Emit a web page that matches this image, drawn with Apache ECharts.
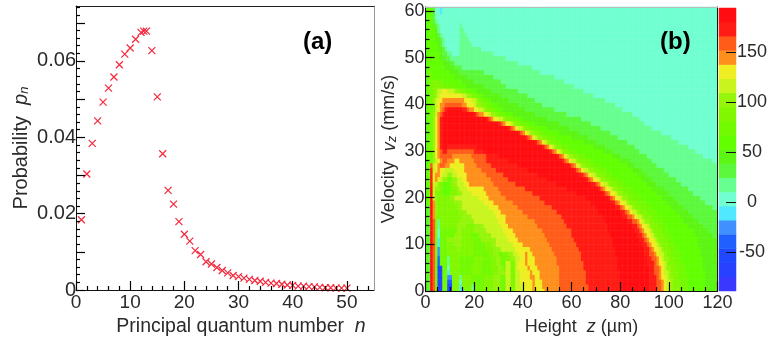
<!DOCTYPE html>
<html>
<head>
<meta charset="utf-8">
<title>Probability and phase space</title>
<script src="https://cdn.jsdelivr.net/npm/echarts@6/dist/echarts.min.js"></script>
<style>
  html, body { margin: 0; padding: 0; background: #fff; }
  #chart { width: 768px; height: 340px; }
</style>
</head>
<body>
<div id="chart"></div>
<script>
// panel (a): probability per principal quantum number
const nValues = [1,2,3,4,5,6,7,8,9,10,11,12,12.5,13,14,15,16,17,18,19,20,21,22,23,24,25,26,27,28,29,30,31,32,33,34,35,36,37,38,39,40,41,42,43,44,45,46,47,48,49,50]
const pValues = [.0184,.0304,.0384,.0443,.0492,.0529,.0558,.059,.0618,.0634,.0657,.0675,.0678,.0678,.0627,.0506,.0357,.0261,.0225,.0179,.0146,.0128,.0103,.0093,.0074,.0068,.0059,.0051,.0045,.0038,.0035,.0031,.0028,.0025,.0023,.002,.0018,.0017,.0015,.0013,.0012,.001,.001,.0009,.0008,.0007,.0006,.0006,.0005,.0005,.0005]
const pTickLabels = [0, 0.02, 0.04, 0.06]
const nTickLabels = [0, 10, 20, 30, 40, 50]

// panel (b): colour bands, top of the colour bar first
const bandLetters = 'abcdefghijklmnopqrst'.split('')
const bandValues = [187,173,159,145,130,116,102,88,74,60,46,31,17,3,-11,-25,-39,-54,-68,-82]
const bandColors = ['#ff0d10','#ff1c14','#ff5c1a','#ff8f1c','#eeee22','#c8f51e','#95f50a','#82f800','#72fa00','#62ff00','#5cf514','#5cf83c','#66ff90','#70ffd0','#50e8ff','#4090ff','#2060ff','#2048ff','#2840ff','#3a38ff']
const barTicks = [-50, 0, 50, 100, 150]
const zTickLabels = [0, 20, 40, 60, 80, 100, 120]
const vTickLabels = [0, 10, 20, 30, 40, 50, 60]

// one string per velocity row, 60 mm/s first: band letter + height where that band ends
const heightRuns = [
  'k1 j3 l4 n6 o7 n120',
  'k1 j3 l4 n120',
  'k1 j3 l4 m5 n120',
  'k1 j3 k4 l5 m6 n14 m15 n120',
  'k1 j4 k5 l5 m6 n14 m16 n120',
  'k1 j4 k5 l6 m7 n14 m17 n120',
  'k1 j4 k6 l7 m8 n14 m18 n120',
  'k1 j5 k6 l7 m8 n14 m19 n120',
  'k1 j5 k7 l8 m9 n14 m23 n120',
  'k1 j6 k7 l9 m11 n14 m28 n120',
  'k1 j6 k8 l10 m33 n120',
  'k1 j7 k10 l12 m38 n120',
  'k1 j8 k12 l15 m44 n120',
  'k1 i3 j10 k14 l24 m47 n120',
  'k1 i3 j12 k17 l28 m53 n120',
  'k1 i3 h5 i8 j15 k20 l31 m57 n120',
  'k1 i3 h7 i12 j17 k24 l33 m61 n120',
  'k1 i3 h4 g5 f7 e9 f12 g14 h16 i18 j21 k27 l38 m65 n120',
  'k1 i3 h4 g5 f6 e15 f17 g19 h20 i22 j24 k31 l42 m69 n120',
  'k1 i3 g4 f5 e7 d16 e19 f21 g22 h23 i25 j27 k34 l45 m74 n120',
  'k1 i3 h4 f5 e6 d8 c15 d17 e20 f21 g23 h25 i27 j30 k38 l48 m78 n120',
  'k1 i3 h4 f5 e6 d7 c8 b9 a15 b17 c18 d20 e22 f24 g25 h27 i29 j32 k41 l53 m81 n120',
  'k1 i3 g4 f5 d6 c7 b8 a20 b21 c22 d24 e26 f27 g29 h30 i33 j36 k45 l58 m85 n120',
  'k1 i3 g4 e5 d6 b7 a25 b26 c27 d28 e30 f32 g33 h35 i38 j40 k50 l64 m88 n120',
  'k1 i3 g4 e5 d6 b7 a30 b31 c32 d33 e35 f36 g37 h39 i42 j45 k55 l68 m90 n120',
  'k1 i3 g4 e5 d6 b7 a34 b35 c36 d37 e38 f40 g41 h43 i46 j50 k59 l72 m93 n120',
  'k1 i3 g4 e5 d6 b7 a38 b39 c40 d41 e42 f43 g45 h47 i49 j55 k63 l76 m97 n120',
  'k1 i3 g4 e5 d6 b7 a41 b42 c43 d44 e45 f46 g48 h50 i53 j60 k67 l79 m101 n120',
  'k1 i3 g4 e5 d6 b7 a45 b46 c47 d48 e49 f50 g51 h53 i56 j65 k70 l83 m104 n120',
  'k1 i3 g4 e5 d6 b7 a9 b21 a48 b49 c50 d51 e52 f53 g54 h56 i59 j69 k74 l86 m108 n120',
  'k1 i3 g4 e5 d6 c7 b9 c20 b24 a51 b52 c53 d54 e55 f56 g57 h59 i62 j73 k77 l88 m111 n120',
  'k1 i3 g4 e5 d6 c11 d19 c25 b30 a54 b55 c56 d57 e58 f59 g61 h63 i66 j77 k80 l91 m114 n120',
  'k1 i3 g4 f5 e6 d7 c9 d12 e14 d20 c25 b34 a56 b57 c58 d59 e60 f62 g63 h66 i69 j80 k84 l93 m118 n120',
  'k1 i2 c3 f4 e5 d6 c8 d10 e16 d21 c27 b38 a59 b60 c61 d62 e63 f64 g66 h68 i72 j83 k86 l95 m120',
  'k1 i2 b3 f4 e5 d6 e8 f12 e16 d23 c29 b42 a61 b62 c63 d64 e65 f67 g69 h71 i75 j85 k89 l98 m120',
  'k1 i2 b3 e4 d6 e7 f9 g11 f13 e17 d25 c32 b46 a63 b65 c66 d67 e68 f70 g71 h74 i77 j87 k91 l100 m120',
  'k1 i2 b3 e4 d5 e6 f7 g9 i11 g13 f15 e17 d27 c34 b50 a66 b67 c68 d69 e71 f72 g74 h76 i80 j89 k93 l103 m120',
  'k1 i2 b3 f5 g6 h7 j10 h11 g13 f16 e18 d28 c37 b54 a68 b70 c71 d72 e73 f75 g76 h79 i82 j91 k95 l105 m120',
  'k1 i2 a3 f4 g6 h7 j10 i11 h13 g14 f17 e24 d30 c41 b58 a71 b72 c73 d74 e76 f77 g79 h81 i85 j93 k98 l108 m120',
  'k1 i2 a3 f4 h7 j10 h13 g15 f19 e25 d31 c44 b62 a73 b74 c75 d76 e78 f79 g81 h83 i87 j95 k100 l110 m120',
  'k1 i2 a3 f4 g5 h10 g12 f22 e26 d33 c47 b66 a75 b76 c77 d78 e80 f81 g83 h85 i89 j97 k102 l113 m120',
  'k1 i2 a3 d4 g5 h12 g15 f24 e28 d36 c49 b68 a77 b78 c79 d80 e82 f83 g84 h87 i91 j99 k104 l115 m120',
  'k1 l2 a3 d4 g5 h13 g15 f26 e30 d38 c52 b70 a78 b80 c81 d82 e84 f85 g86 h89 i93 j101 k106 l118 m120',
  'k1 l2 a3 d4 g5 h14 g17 f28 e31 d40 c54 b71 a80 b82 c83 d84 e85 f87 g88 h91 i95 j103 k108 l120',
  'k1 l2 a3 d4 h15 g19 f29 e33 d42 c56 b73 a81 b83 c85 d86 e87 f89 g90 h93 i96 j105 k110 l120',
  'k1 l2 a3 c4 h5 m6 h14 g20 f30 e33 d45 c57 b74 a83 b85 c87 d88 e89 f90 g92 h94 i98 j106 k112 l120',
  'k1 l2 a3 c4 h5 m6 h13 g17 h20 g24 f31 e34 d46 c58 b75 a85 b87 c88 d89 e91 f92 g93 h96 i99 j108 k114 l120',
  'k1 l2 a3 c4 h5 n6 i13 g15 h20 g25 f32 e36 d48 c60 b75 a86 b88 c89 d90 e92 f93 g94 h97 i100 j110 k116 l120',
  'k1 l2 a3 c4 h5 n6 i12 g15 h19 i22 g27 f33 e37 d49 c60 b76 a87 b89 c90 d91 e93 f94 g95 h98 i101 j111 k118 l120',
  'k1 l2 a3 c4 h5 o6 i9 g15 h20 i23 g29 f34 e38 d50 c61 b77 a88 b90 c91 d92 e94 f95 g96 h99 i102 j112 k120',
  'k1 l2 a3 c4 h5 o6 i9 h12 g15 h20 i24 h27 g29 f36 e40 d51 c62 b77 a89 b91 c92 d93 e95 f96 g97 h100 i103 j112 k120',
  'k1 l2 a3 c4 h5 p6 i9 h13 g14 h20 i25 h28 g31 f37 e43 d52 c63 b78 a90 b92 c93 d94 e96 f97 g98 h101 i104 j113 k120',
  'k1 l2 a3 c4 h5 p6 i9 h20 i26 h28 g30 i32 h34 g36 f38 e41 d42 e44 d53 c64 b78 a90 b92 c94 d95 e96 f98 g99 h101 i105 j113 k120',
  'k1 l2 a3 c4 i5 q6 i9 m10 h14 i20 h24 i27 h29 g31 i33 h35 g37 f39 e41 d42 e45 d54 c64 b79 a91 b93 c95 d96 e97 f98 g100 h102 i105 j114 k120',
  'k1 l2 a3 c4 i5 q6 i9 m10 h14 i20 h23 i27 h29 g31 i33 f35 h37 f38 e41 d42 e45 d54 c65 b79 a91 b94 c95 d96 e98 f99 g100 h103 i106 j114 k120',
  'k1 l2 a3 c4 i5 r7 i9 n10 h14 i19 h23 i27 h30 g32 i33 f35 h37 f38 e42 d43 e46 d55 c65 b79 a92 b94 c96 d97 e98 f99 g101 h103 i107 j114 k120',
  'k1 l2 a3 c4 i5 r7 i9 o10 h14 i19 h23 i28 h30 g33 f35 h37 f39 e43 d44 e47 d55 c66 b80 a92 b94 c96 d97 e98 f100 g101 h104 i107 j115 k120',
  'k1 l2 a3 c4 i5 r7 i9 p11 h14 m15 h19 i24 h28 g31 i33 f35 h37 f39 e43 d45 e47 d55 c66 b80 a92 b95 c96 d97 e99 f100 g102 h104 i108 j115 k120',
  'k1 l2 a3 c4 i5 r7 i9 q11 h14 n15 h19 i24 h28 g31 i33 f35 h37 f39 e44 d45 e48 d55 c66 b80 a92 b95 c97 d98 e99 f101 g102 h105 i108 j115 k120',
  'k1 l2 a3 c4 i5 s7 i9 r11 h14 o15 h19 m20 i24 h28 g31 i33 f35 h37 f40 e44 d45 e48 d55 c67 b80 a92 b95 c97 d98 e99 f101 g102 h105 i108 j115 k120',
  'k1 l2 a3 c4 i5 r7 i9 r11 h14 o16 h19 m20 i24 h28 g31 i33 f35 h37 f40 e44 d45 e49 d55 c67 b80 a92 b95 c97 d98 e99 f101 g102 h105 i108 j115 k120'
]

const FONT = '"Liberation Sans", Arial, sans-serif'
const INK = '#2a2a2a'

// expand the runs into cells; each row is centred on its velocity so it takes two half bins
const rowsFromZero = heightRuns.slice().reverse().map(row => {
  const bands = []
  row.split(' ').forEach(run => {
    const end = Number(run.slice(1))
    while (bands.length < end) bands.push(bandValues[bandLetters.indexOf(run[0])])
  })
  return bands
})
const velocityCats = Array.from({ length: 122 }, (_, i) => i / 2)
const heightCats = Array.from({ length: 120 }, (_, i) => i)
const heatCells = []
velocityCats.forEach((_, j) => {
  const bands = rowsFromZero[Math.min(60, Math.ceil(j / 2))]
  bands.forEach((value, z) => heatCells.push([z, j, value]))
})
const barCats = bandValues.slice().reverse()
const barCells = barCats.map((v, i) => [0, i, v])

const pairs = nValues.map((n, i) => [n, pValues[i]])

const hiddenAxis = (gridIndex, data) => ({
  type: 'category', gridIndex, data, show: false
})
const edgeAxis = (gridIndex, position, color) => ({
  type: 'value', gridIndex, position, min: 0, max: 1, z: 6,
  axisLabel: { show: false }, axisTick: { show: false }, splitLine: { show: false },
  axisLine: { show: true, onZero: false, lineStyle: { color, width: 1 } }
})
const majorTick = values => ({
  show: true, inside: true, length: 9, customValues: values, lineStyle: { color: '#000', width: 1.2 }
})
const tickAxis = (gridIndex, extra) => Object.assign({
  type: 'value', gridIndex, z: 6,
  splitLine: { show: false },
  axisLine: { show: true, onZero: false, lineStyle: { color: '#111', width: 1 } },
  nameLocation: 'middle'
}, extra)
const richTitle = (size, extra) => Object.assign({
  color: INK, fontFamily: FONT, fontSize: size,
  rich: {
    i: { fontStyle: 'italic', fontSize: size, fontFamily: FONT, color: INK },
    s: { fontStyle: 'italic', fontSize: 13, fontFamily: FONT, color: INK, verticalAlign: 'bottom' }
  }
}, extra)
const minor = n => ({ show: true, splitNumber: n, length: 4, lineStyle: { color: '#000', width: 1.2 } })

const chart = echarts.init(document.getElementById('chart'), null, { renderer: 'canvas' })

chart.setOption({
  animation: false,
  backgroundColor: '#fff',
  grid: [
    { left: 76, top: 6, width: 298, height: 284, outerBoundsMode: 'none' },
    { left: 425.5, top: 7, width: 292, height: 284, outerBoundsMode: 'none' },
    { left: 719, top: 8, width: 17, height: 283, outerBoundsMode: 'none' }
  ],
  xAxis: [
    tickAxis(0, {
      min: 0, max: 55, interval: 10,
      axisTick: majorTick(nTickLabels),
      minorTick: minor(5),
      axisLabel: { color: INK, fontFamily: FONT, fontSize: 19, margin: 3, customValues: nTickLabels },
      name: 'Principal quantum number  {i|n}', nameGap: 27,
      nameTextStyle: richTitle(19.5, { padding: [0, 0, 0, 32] })
    }),
    tickAxis(1, {
      min: 0, max: 120, interval: 20,
      axisTick: majorTick(zTickLabels),
      minorTick: minor(4),
      axisLabel: { color: INK, fontFamily: FONT, fontSize: 18, margin: 3, customValues: zTickLabels },
      name: 'Height  {i|z} (µm)', nameGap: 27,
      nameTextStyle: richTitle(18, { padding: [0, 0, 0, 20] })
    }),
    hiddenAxis(1, heightCats),
    hiddenAxis(2, ['bar']),
    edgeAxis(0, 'top', '#222'),
    edgeAxis(1, 'top', '#bbb')
  ],
  yAxis: [
    tickAxis(0, {
      min: 0, max: 0.0744, interval: 0.01,
      axisTick: majorTick([0, 0.01, 0.02, 0.03, 0.04, 0.05, 0.06, 0.07]),
      minorTick: minor(5),
      axisLabel: { color: INK, fontFamily: FONT, fontSize: 20, margin: 0, customValues: pTickLabels,
        formatter: v => (v === 0 ? '0' : v.toFixed(2)) },
      name: 'Probability  {i|p}{s|n}', nameGap: 45,
      nameTextStyle: richTitle(20)
    }),
    tickAxis(1, {
      min: 0, max: 60.85, interval: 10,
      axisTick: majorTick(vTickLabels),
      minorTick: minor(5),
      axisLabel: { color: INK, fontFamily: FONT, fontSize: 18, margin: 1, customValues: vTickLabels },
      name: 'Velocity  {i|v}{s|z} (mm/s)', nameGap: 27,
      nameTextStyle: richTitle(18)
    }),
    hiddenAxis(1, velocityCats),
    hiddenAxis(2, barCats),
    {
      type: 'value', gridIndex: 2, position: 'right', min: -89, max: 194, z: 6,
      splitLine: { show: false },
      axisLine: { show: false },
      axisTick: { show: true, inside: true, length: 10, customValues: barTicks, lineStyle: { color: '#111', width: 1 } },
      axisLabel: { color: INK, fontFamily: FONT, fontSize: 18, margin: 16, align: 'center', customValues: barTicks }
    },
    edgeAxis(0, 'right', '#999'),
    edgeAxis(1, 'right', '#111')
  ],
  visualMap: {
    type: 'piecewise', show: false, dimension: 2, seriesIndex: [1, 2],
    pieces: bandValues.map((v, i) => ({ value: v, color: bandColors[i] }))
  },
  graphic: [
    { type: 'text', z: 100, left: 303, top: 30, style: { text: '(a)', font: 'bold 24px ' + FONT, fill: '#000' } },
    { type: 'text', z: 100, left: 660, top: 30, style: { text: '(b)', font: 'bold 24px ' + FONT, fill: '#000' } }
  ],
  series: [
    {
      type: 'scatter', xAxisIndex: 0, yAxisIndex: 0, data: pairs, symbol: 'path://M0 0L10 10M10 0L0 10', symbolSize: 7,
      itemStyle: { color: 'transparent', borderColor: '#f5283c', borderWidth: 1.2, opacity: 1 }
    },
    {
      type: 'heatmap', xAxisIndex: 2, yAxisIndex: 2, data: heatCells, progressive: 0,
      emphasis: { disabled: true }
    },
    {
      type: 'heatmap', xAxisIndex: 3, yAxisIndex: 3, data: barCells,
      emphasis: { disabled: true }
    }
  ]
})
</script>
</body>
</html>
